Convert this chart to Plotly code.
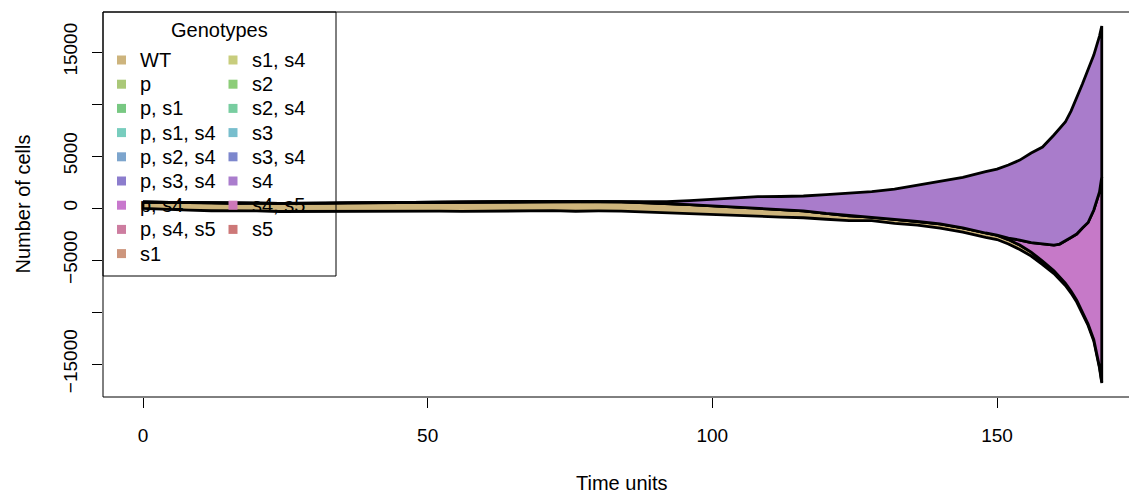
import plotly.graph_objects as go

# ---------------- data ----------------
time = [0, 4, 8, 12, 16, 20, 24, 28, 32, 36, 40, 44, 48, 52, 56, 60, 64, 68, 72, 76,
        80, 84, 88, 92, 96, 100, 104, 108, 112, 116, 120, 124, 128, 132, 136, 140, 144, 148,
        150, 152, 154, 156, 158, 160, 161, 162, 163, 164, 165, 166, 167, 168, 168.4]

wt = [600, 660, 720, 760, 740, 760, 790, 800, 830, 850, 830, 870, 890, 910, 880, 930, 940, 910, 890, 920,
      900, 890, 870, 860, 830, 810, 820, 800, 730, 660, 560, 460, 350, 380, 360, 400, 410, 420,
      430, 430, 420, 380, 330, 280, 250, 220, 200, 180, 165, 150, 140, 135, 130]

p_s4 = [0, 0, 0, 0, 0, 0, 0, 0, 0, 0, 0, 0, 0, 0, 0, 0, 0, 0, 0, 0,
        0, 0, 0, 0, 0, 0, 0, 0, 0, 0, 0, 0, 0, 0, 0, 0, 0, 0,
        0, 150, 480, 910, 1690, 2460, 3160, 4060, 5140, 6360, 8010, 9750, 12450, 16790, 19680]

s4 = [0, 0, 0, 0, 0, 0, 0, 0, 0, 0, 0, 0, 0, 0, 0, 0, 0, 0, 0, 0,
      0, 20, 60, 180, 380, 620, 850, 1080, 1250, 1430, 1800, 2150, 2450, 2900, 3450, 4100, 4850, 5900,
      6350, 7020, 7690, 8610, 9280, 10580, 11060, 11440, 12160, 13080, 13850, 14710, 14900, 15000, 14520]

# vertical centre of the stream (stream-graph offset)
stream_center = [260, 200, 150, 120, 80, 100, 60, 40, 50, 80, 110, 90, 130, 150, 120, 160, 140, 170, 190, 150,
                 170, 160, 130, 100, 110, 120, 150, 150, 120, 110, 100, 100, 180, 170, 270, 320, 320, 340,
                 360, 337, 312, 337, 216, 360, 360, 409, 577, 770, 914, 1010, 962, 577, 337]

genotypes = ["WT", "p", "p, s1", "p, s1, s4", "p, s2, s4", "p, s3, s4", "p, s4", "p, s4, s5", "s1",
             "s1, s4", "s2", "s2, s4", "s3", "s3, s4", "s4", "s4, s5", "s5"]
geno_colors = ["#CDB47D", "#AAC878", "#78C882", "#78CDBE", "#7DA5CD", "#8C7DCD", "#C878CD", "#CD7DA0",
               "#CD967D", "#C8CD7D", "#8CCD78", "#78CDA0", "#78BECD", "#7D87CD", "#AA7DCD", "#CD78B9",
               "#CD7878"]

stack_order = ["WT", "p, s4", "s4"]
stack_values = {"WT": wt, "p, s4": p_s4, "s4": s4}
stream_fill = {"WT": "#CDB47B", "p, s4": "#C679C8", "s4": "#A97CCB"}

x_ticks = [0, 50, 100, 150]
y_ticks = [-15000, -10000, -5000, 0, 5000, 10000, 15000]
y_ticktext = ["\u221215000", "", "\u22125000", "0", "5000", "", "15000"]

# ---------------- layout geometry ----------------
OFF = 8                      # page body margin offset of the html page
W, H = 1137 - OFF, 496 - OFF
L_REF, T_REF, PB_REF = 103, 12, 397   # plot area in screen pixels
L, T, PB = L_REF - OFF, T_REF - OFF, PB_REF - OFF
R = 0
PW = W - L - R
PH = PB - T
FONT = "Liberation Sans, Arial, Helvetica, sans-serif"
FS_TICK = 19
FS_TEXT = 20


def px_x(px):
    return (px - L_REF) / PW


def px_y(py):
    return (PB_REF - py) / PH


fig = go.Figure()

n = len(time)
total = [wt[i] + p_s4[i] + s4[i] for i in range(n)]
lower = [stream_center[i] - total[i] / 2 for i in range(n)]

for g in stack_order:
    vals = stack_values[g]
    upper = [lower[i] + vals[i] for i in range(n)]
    xs = list(time) + list(reversed(time)) + [time[0]]
    ys = upper + list(reversed(lower)) + [upper[0]]
    fig.add_trace(go.Scatter(
        x=xs, y=ys, mode="lines", fill="toself", fillcolor=stream_fill[g],
        line=dict(color="black", width=2.8), hoverinfo="skip", showlegend=False,
        name=g))
    lower = upper

shapes = []
annotations = []

# plot box (right side lies beyond the page edge)
shapes.append(dict(type="rect", xref="paper", yref="paper", x0=0, x1=1.06, y0=0, y1=1,
                   line=dict(color="black", width=1), fillcolor="rgba(0,0,0,0)", layer="above"))

# legend box
shapes.append(dict(type="rect", xref="paper", yref="paper", x0=px_x(103), x1=px_x(336),
                   y0=px_y(276), y1=px_y(12), line=dict(color="black", width=1),
                   fillcolor="rgba(0,0,0,0)", layer="above"))
annotations.append(dict(text="Genotypes", xref="paper", yref="paper", x=px_x(219.5), y=px_y(30),
                        xanchor="center", yanchor="middle", showarrow=False,
                        font=dict(family=FONT, size=FS_TEXT, color="black")))

row_y = [60, 84.2, 108.4, 132.6, 156.8, 181, 205.2, 229.4, 253.6]
col_sw = [121.5, 233]
col_tx = [138, 250]
for k, (g, c) in enumerate(zip(genotypes, geno_colors)):
    col = 0 if k < 9 else 1
    row = k if k < 9 else k - 9
    cy = row_y[row]
    cx = col_sw[col]
    shapes.append(dict(type="rect", xref="paper", yref="paper",
                       x0=px_x(cx - 4.5), x1=px_x(cx + 4.5), y0=px_y(cy + 4.5), y1=px_y(cy - 4.5),
                       line=dict(width=0), fillcolor=c, layer="above"))
    annotations.append(dict(text=g, xref="paper", yref="paper", x=px_x(col_tx[col]), y=px_y(cy),
                            xanchor="left", yanchor="middle", showarrow=False,
                            font=dict(family=FONT, size=FS_TEXT, color="black")))

# axis titles
annotations.append(dict(text="Time units", xref="paper", yref="paper", x=px_x(621.5), y=px_y(483),
                        xanchor="center", yanchor="middle", showarrow=False,
                        font=dict(family=FONT, size=FS_TEXT, color="black")))
annotations.append(dict(text="Number of cells", xref="paper", yref="paper", x=px_x(22), y=0.5,
                        xanchor="center", yanchor="middle", showarrow=False, textangle=-90,
                        font=dict(family=FONT, size=FS_TEXT, color="black")))

x_per_px = 150 / (997 - 143)
x0 = -(143 - L_REF) * x_per_px
x1 = x0 + PW * x_per_px

fig.update_layout(
    width=W, height=H,
    margin=dict(l=L, r=R, t=T, b=H - PB, pad=0),
    paper_bgcolor="white", plot_bgcolor="white",
    shapes=shapes, annotations=annotations,
    showlegend=False,
    xaxis=dict(range=[x0, x1], tickvals=x_ticks, ticktext=[str(v) for v in x_ticks],
               ticks="outside", ticklen=10, tickwidth=1, tickcolor="black",
               showgrid=False, zeroline=False, showline=False,
               tickfont=dict(family=FONT, size=FS_TICK, color="black"), ticklabelstandoff=11),
    yaxis=dict(range=[-18170, 18850], tickvals=y_ticks, ticktext=y_ticktext, tickangle=-90,
               ticks="outside", ticklen=10, tickwidth=1, tickcolor="black",
               showgrid=False, zeroline=False, showline=False,
               tickfont=dict(family=FONT, size=FS_TICK, color="black"), ticklabelstandoff=7),
)

fig.write_html("out.html")
